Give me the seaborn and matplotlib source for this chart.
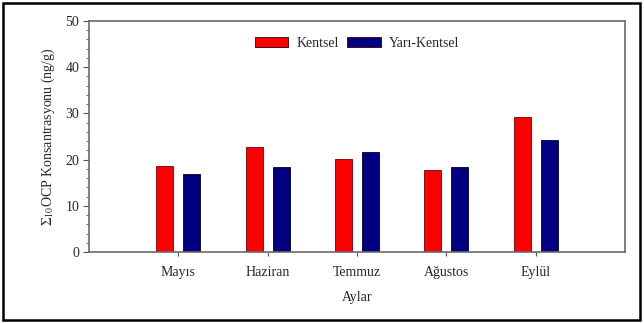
import pandas as pd
import numpy as np
import seaborn as sns
import matplotlib.pyplot as plt
from matplotlib.patches import Rectangle
from matplotlib.ticker import MultipleLocator

months = ['Mayıs', 'Haziran', 'Temmuz', 'Ağustos', 'Eylül']
kentsel = [18.7, 22.7, 20.1, 17.7, 29.3]
yari_kentsel = [16.9, 18.5, 21.7, 18.4, 24.3]
groups = ['Kentsel', 'Yarı-Kentsel']

df = pd.DataFrame({
    'ay': months * 2,
    'grup': [groups[0]] * len(months) + [groups[1]] * len(months),
    'deger': kentsel + yari_kentsel,
})

sns.set_style('white')
plt.rcParams['font.family'] = ['Liberation Serif', 'DejaVu Serif']
plt.rcParams['mathtext.fontset'] = 'stix'
plt.rcParams['font.size'] = 10

fig = plt.figure(figsize=(6.44, 3.23), dpi=100)
ax = fig.add_axes([89 / 644, 1 - 252 / 323, 536 / 644, 231 / 323])

sns.barplot(data=df, x='ay', y='deger', hue='grup', order=months,
            hue_order=groups, palette=['#FF0000', '#000080'],
            width=0.6, gap=0.37, saturation=1, ax=ax)

for bar in ax.patches:
    fc = bar.get_facecolor()
    bar.set_edgecolor('#700000' if fc[0] > 0.5 else '#000030')
    bar.set_linewidth(0.6)

ax.set_xlim(-1, 5)
ax.set_ylim(0, 50)
ax.yaxis.set_major_locator(MultipleLocator(10))
ax.yaxis.set_minor_locator(MultipleLocator(2))
ax.tick_params(axis='y', which='major', direction='out', length=4, width=0.8,
               color='#555555', left=True, pad=3)
ax.tick_params(axis='y', which='minor', direction='out', length=2, width=0.6,
               color='#555555', left=True)
ax.tick_params(axis='x', direction='out', length=3, width=0.8,
               color='#555555', bottom=True, pad=7)
for s in ax.spines.values():
    s.set_color('#6a6a6a')
    s.set_linewidth(1.2)

ax.set_xlabel('Aylar', labelpad=9)
ax.set_ylabel(r'$\Sigma_{10}$OCP Konsantrasyonu (ng/g)', labelpad=6)

leg = ax.legend(loc='upper center', bbox_to_anchor=(0.5, 0.985), ncol=2,
                frameon=False, handlelength=2.4, handleheight=0.7,
                columnspacing=0.6, handletextpad=0.6)
for h in leg.legend_handles:
    h.set_edgecolor('#300000')
    h.set_linewidth(0.6)

fig.patches.append(Rectangle((3 / 644, 3 / 323), 637 / 644, 317 / 323,
                             transform=fig.transFigure, fill=False,
                             edgecolor='black', linewidth=1.8))

fig.savefig('out.png', dpi=100)
